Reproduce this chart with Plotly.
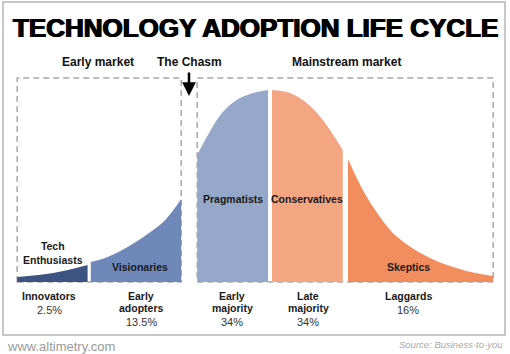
import plotly.graph_objects as go

# ---- data (x in standard-deviation units, y as relative density) ----
innov_x = [-3.16, -2.71, -2.28]
innov_y = [0.026, 0.047, 0.089]
vision_x = [-2.24, -2.03, -1.78, -1.53, -1.31, -1.11]
vision_y = [0.104, 0.130, 0.182, 0.250, 0.323, 0.432]
pragm_x = [-0.91, -0.79, -0.59, -0.375, -0.16, -0.025]
pragm_y = [0.661, 0.755, 0.885, 0.958, 0.990, 1.0]
conserv_x = [0.025, 0.25, 0.46, 0.66, 0.91]
conserv_y = [1.0, 0.984, 0.932, 0.844, 0.6875]
skept_x = [0.975, 1.16, 1.375, 1.59, 2.0, 2.41, 2.79]
skept_y = [0.64, 0.479, 0.339, 0.234, 0.125, 0.0625, 0.031]

segment_x = [innov_x, vision_x, pragm_x, conserv_x, skept_x]
segment_y = [innov_y, vision_y, pragm_y, conserv_y, skept_y]
segment_colors = ["#3d5483", "#6f88b9", "#95a8c9", "#f4a582", "#f28d5d"]
group_names = ["Innovators", "Early<br>adopters", "Early<br>majority", "Late<br>majority", "Laggards"]
group_pcts = ["2.5%", "13.5%", "34%", "34%", "16%"]
profiles = ["Tech<br>Enthusiasts", "Visionaries", "Pragmatists", "Conservatives", "Skeptics"]
markets = ["Early market", "The Chasm", "Mainstream market"]
title = "TECHNOLOGY ADOPTION LIFE CYCLE"

W, H = 510, 354


def X(px):
    return (px - 270) / 80


def Y(py):
    return (282 - py) / 192


fig = go.Figure()
for xs, ys, col in zip(segment_x, segment_y, segment_colors):
    fig.add_trace(go.Scatter(x=xs, y=ys, mode="lines", fill="tozeroy",
                             line=dict(color=col, width=0, shape="spline", smoothing=1.0),
                             fillcolor=col, hoverinfo="skip", showlegend=False))

dash_col = "#a8a8a8"
box_top = Y(78)
shapes = [
    dict(type="rect", x0=innov_x[0], x1=vision_x[-1], y0=0, y1=box_top, xref="x", yref="y",
         line=dict(color=dash_col, width=1.5, dash="6px,4px"), layer="below"),
    dict(type="rect", x0=pragm_x[0], x1=skept_x[-1], y0=0, y1=box_top, xref="x", yref="y",
         line=dict(color=dash_col, width=1.5, dash="6px,4px"), layer="below"),
    dict(type="rect", x0=3 / W, x1=505 / W, y0=1 - 335 / H, y1=1 - 2 / H, xref="paper", yref="paper",
         line=dict(color="#b5b5b5", width=1.5)),
]

ann = []
FONT = "Liberation Sans, Arial, sans-serif"
ann.append(dict(text="<b>" + title + "</b>", x=X(255), y=Y(27.5), xref="x", yref="y",
                showarrow=False, xanchor="center", yanchor="middle",
                font=dict(family=FONT, size=26, color="#000",
                          shadow="0.7px 0 0 #000, -0.7px 0 0 #000")))
for t, px in zip(markets, [98, 189, 346]):
    ann.append(dict(text="<b>" + t + "</b>", x=X(px), y=Y(62), showarrow=False,
                    xanchor="center", yanchor="middle",
                    font=dict(family=FONT, size=12, color="#111")))
# chasm arrow
ann.append(dict(text="", x=X(189), y=Y(96), ax=0, ay=-25, showarrow=True,
                arrowhead=2, arrowsize=1.1, arrowwidth=2.5, arrowcolor="#000", standoff=0))

# profile labels inside areas
prof_pos = [(53, 253), (140, 267), (233, 199), (307, 199), (408, 267)]
for t, (px, py) in zip(profiles, prof_pos):
    ann.append(dict(text="<b>" + t + "</b>", x=X(px), y=Y(py), showarrow=False,
                    xanchor="center", yanchor="middle",
                    font=dict(family=FONT, size=10.5, color="#1a1a1a")))

# group labels below
group_px = [49, 141, 232, 308, 408]
for name, pct, px in zip(group_names, group_pcts, group_px):
    lines = name.split("<br>")
    py = 296
    for ln in lines:
        ann.append(dict(text="<b>" + ln + "</b>", x=X(px), y=Y(py), showarrow=False,
                        xanchor="center", yanchor="middle",
                        font=dict(family=FONT, size=10.5, color="#1a1a1a")))
        py += 11.5
    py += 2.5
    ann.append(dict(text=pct, x=X(px), y=Y(py), showarrow=False,
                    xanchor="center", yanchor="middle",
                    font=dict(family=FONT, size=11, color="#333")))

ann.append(dict(text="www.altimetry.com", x=X(5), y=Y(346), showarrow=False,
                xanchor="left", yanchor="middle",
                font=dict(family=FONT, size=13, color="#9a9a9a")))
ann.append(dict(text="<i>Source: Business-to-you</i>", x=X(505), y=Y(344), showarrow=False,
                xanchor="right", yanchor="middle",
                font=dict(family=FONT, size=9.5, color="#a8a8a8")))

fig.update_layout(
    width=W, height=H, autosize=False,
    margin=dict(l=0, r=0, t=0, b=0),
    paper_bgcolor="white", plot_bgcolor="white",
    xaxis=dict(range=[X(0), X(W)], visible=False, fixedrange=True),
    yaxis=dict(range=[Y(H), Y(0)], visible=False, fixedrange=True),
    shapes=shapes, annotations=ann, showlegend=False,
)
fig.write_html("out.html")
